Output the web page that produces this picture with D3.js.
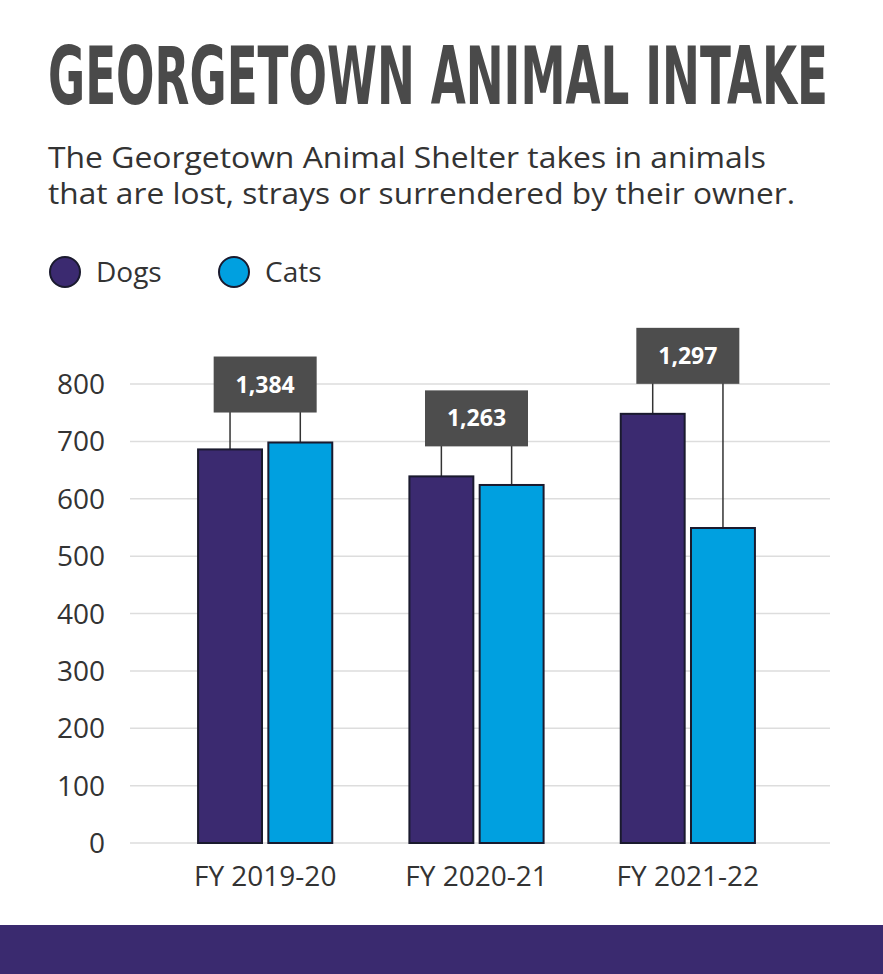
<!DOCTYPE html>
<html lang="en">
<head>
<meta charset="UTF-8">
<title>Georgetown Animal Intake</title>
<script src="https://d3js.org/d3.v7.min.js"></script>
<style>
  body { margin: 0; background: #fff; font-family: "Open Sans", "Noto Sans", sans-serif; }
  svg { display: block; }
</style>
</head>
<body>
<div id="chart"></div>
<script>
const years = ["FY 2019-20", "FY 2020-21", "FY 2021-22"];
const dogs = [686, 639, 748];
const cats = [698, 624, 549];
const totals = ["1,384", "1,263", "1,297"];
const yTicks = [0, 100, 200, 300, 400, 500, 600, 700, 800];

const W = 883, H = 974;
const svg = d3.select("#chart").append("svg").attr("width", W).attr("height", H);

// title + subtitle
svg.append("text").attr("x", 48).attr("y", 104)
  .attr("textLength", 780).attr("lengthAdjust", "spacingAndGlyphs")
  .style("font-family", "'DejaVu Sans Condensed', 'DejaVu Sans', sans-serif")
  .style("font-weight", "bold").style("font-size", "80px").attr("fill", "#4a4a4a")
  .text("GEORGETOWN ANIMAL INTAKE");
svg.append("text").attr("x", 48).attr("y", 168).attr("fill", "#333")
  .attr("textLength", 718).attr("lengthAdjust", "spacingAndGlyphs")
  .style("font-size", "29px").text("The Georgetown Animal Shelter takes in animals");
svg.append("text").attr("x", 48).attr("y", 204).attr("fill", "#333")
  .attr("textLength", 747).attr("lengthAdjust", "spacingAndGlyphs")
  .style("font-size", "29px").text("that are lost, strays or surrendered by their owner.");

const color = { Dogs: "#3b2a70", Cats: "#00a0e0" };

// legend
[["Dogs", 65, 96], ["Cats", 234, 265]].forEach(([k, cx, tx]) => {
  svg.append("circle").attr("cx", cx).attr("cy", 272).attr("r", 15)
    .attr("fill", color[k]).attr("stroke", "#1a1a2e").attr("stroke-width", 2);
  svg.append("text").attr("x", tx).attr("y", 282).attr("fill", "#333")
    .style("font-size", "28px").text(k);
});

// scales
const y = d3.scaleLinear().domain([0, 800]).range([843, 384]);
const x0 = d3.scaleBand().domain(years).range([159.5, 793.5]).paddingInner(0.365).paddingOuter(0.1825);
const x1 = d3.scaleBand().domain(["Dogs", "Cats"]).range([0, x0.bandwidth()]).paddingInner(0.09);

// grid
svg.append("g").selectAll("line").data(yTicks).join("line")
  .attr("x1", 130).attr("x2", 830)
  .attr("y1", d => y(d)).attr("y2", d => y(d))
  .attr("stroke", "#ddd").attr("stroke-width", 1.5);
svg.append("g").selectAll("text").data(yTicks).join("text")
  .attr("x", 105).attr("y", d => y(d) + 10).attr("text-anchor", "end")
  .attr("fill", "#333").style("font-size", "28px").text(d => d);

// connectors + total boxes
years.forEach((yr, i) => {
  const top = Math.min(y(dogs[i]), y(cats[i]));
  const bottom = top - 30, boxH = 56, boxW = 103;
  const cx = x0(yr) + x0.bandwidth() / 2;
  [["Dogs", dogs[i]], ["Cats", cats[i]]].forEach(([k, v]) => {
    const lx = x0(yr) + x1(k) + x1.bandwidth() / 2;
    svg.append("line").attr("x1", lx).attr("x2", lx)
      .attr("y1", bottom - boxH / 2).attr("y2", y(v))
      .attr("stroke", "#333").attr("stroke-width", 1.5);
  });
  svg.append("rect").attr("x", cx - boxW / 2).attr("y", bottom - boxH)
    .attr("width", boxW).attr("height", boxH).attr("fill", "#4d4d4d");
  svg.append("text").attr("x", cx).attr("y", bottom - boxH / 2 + 8)
    .attr("text-anchor", "middle").attr("fill", "#fff")
    .style("font-size", "23px").style("font-weight", "bold").text(totals[i]);
});

// bars
const rows = years.flatMap((yr, i) => [
  { yr, k: "Dogs", v: dogs[i] }, { yr, k: "Cats", v: cats[i] }]);
svg.append("g").selectAll("rect").data(rows).join("rect")
  .attr("x", d => x0(d.yr) + x1(d.k)).attr("width", x1.bandwidth())
  .attr("y", d => y(d.v)).attr("height", d => y(0) - y(d.v))
  .attr("fill", d => color[d.k]).attr("stroke", "#1a1a2e").attr("stroke-width", 2);

// x labels
svg.append("g").selectAll("text").data(years).join("text")
  .attr("x", d => x0(d) + x0.bandwidth() / 2).attr("y", 886)
  .attr("text-anchor", "middle").attr("fill", "#333").style("font-size", "28px").text(d => d);

// bottom band
svg.append("rect").attr("x", 0).attr("y", 925).attr("width", W).attr("height", 49).attr("fill", "#3a2a6f");
</script>
</body>
</html>
